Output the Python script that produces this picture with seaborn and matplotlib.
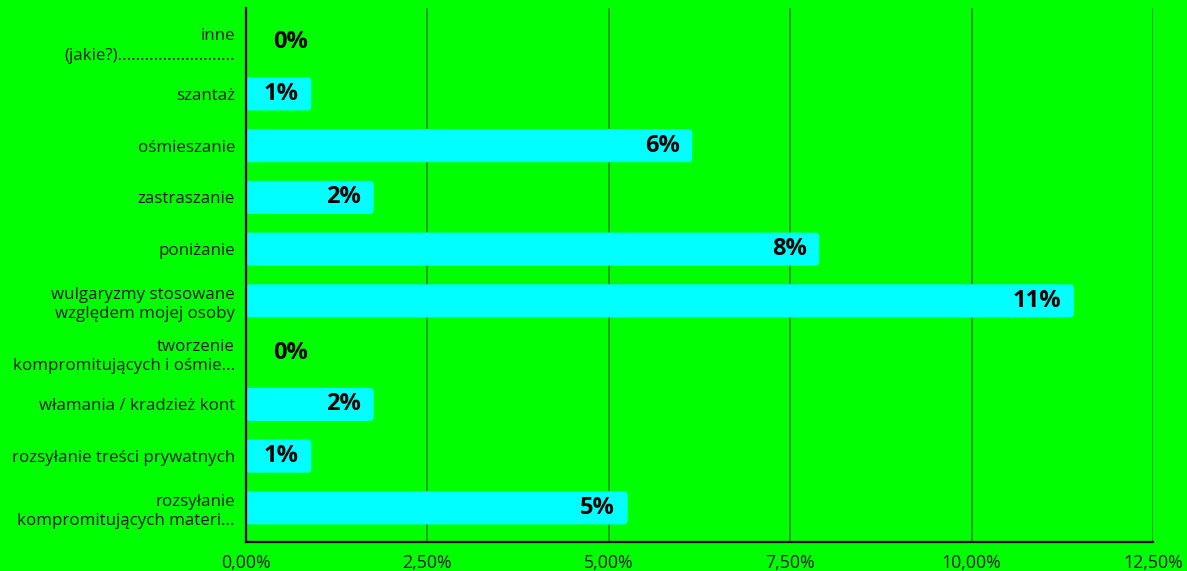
import matplotlib
matplotlib.use("Agg")
import matplotlib.pyplot as plt
import seaborn as sns
import pandas as pd
from matplotlib.patches import FancyBboxPatch
from matplotlib.ticker import FixedLocator

categories = [
    "inne\n(jakie?)..........................",
    "szantaż",
    "ośmieszanie",
    "zastraszanie",
    "poniżanie",
    "wulgaryzmy stosowane\nwzględem mojej osoby",
    "tworzenie\nkompromitujących i ośmie...",
    "włamania / kradzież kont",
    "rozsyłanie treści prywatnych",
    "rozsyłanie\nkompromitujących materi...",
]
values = [0.0, 0.9, 6.15, 1.76, 7.9, 11.41, 0.0, 1.76, 0.9, 5.26]
labels = ["0%", "1%", "6%", "2%", "8%", "11%", "0%", "2%", "1%", "5%"]
xticks = [0, 2.5, 5, 7.5, 10, 12.5]
xticklabels = ["0,00%", "2,50%", "5,00%", "7,50%", "10,00%", "12,50%"]

BG = "#00FF00"
BAR = "#00FFFF"
GRID = "#1E9A1E"

sns.set_theme(style="white")
plt.rcParams["font.family"] = ["Open Sans", "DejaVu Sans"]

df = pd.DataFrame({"cat": categories, "val": values})

fig = plt.figure(figsize=(11.87, 5.71), dpi=100, facecolor=BG)
ax = fig.add_axes([246/1187, 29/571, (1153-246)/1187, (542-8)/571])
ax.set_facecolor(BG)

sns.barplot(data=df, x="val", y="cat", orient="h", color=BAR, width=0.64,
            ax=ax, saturation=1)

# rounded bar ends
xpx = 12.5 / 907
ypx = 10.32 / 534
for p in list(ax.patches):
    x0, y0 = p.get_x(), p.get_y()
    w, h = p.get_width(), p.get_height()
    p.remove()
    if w <= 0:
        continue
    fb = FancyBboxPatch((x0, y0), w, h,
                        boxstyle="round,pad=0,rounding_size=%f" % (4 * xpx),
                        mutation_aspect=ypx / xpx,
                        facecolor=BAR, edgecolor="none", zorder=2)
    ax.add_patch(fb)

ax.set_xlim(0, 12.5)
ax.set_ylim(9.66, -0.66)
ax.xaxis.set_major_locator(FixedLocator(xticks))
ax.set_xticklabels(xticklabels, fontsize=12.8, color="#1a1a1a")
ax.tick_params(axis="y", labelsize=12.2, labelcolor="#1a1a1a", length=0, pad=8)
ax.tick_params(axis="x", length=0, pad=9)
for t in ax.get_yticklabels():
    t.set_linespacing(1.28)
ax.set_xlabel("")
ax.set_ylabel("")

for xt in xticks[1:]:
    ax.axvline(xt, color=GRID, lw=1.3, zorder=1)

for s in ["top", "right"]:
    ax.spines[s].set_visible(False)
for s in ["left", "bottom"]:
    ax.spines[s].set_visible(True)
    ax.spines[s].set_color("black")
    ax.spines[s].set_linewidth(1.6)
    ax.spines[s].set_zorder(3)

for i, (v, lab) in enumerate(zip(values, labels)):
    xpos = v if v > 0 else 1.02
    ax.annotate(lab, xy=(xpos, i), xytext=(-9, 0),
                textcoords="offset points", ha="right", va="center",
                fontsize=17, fontweight="bold", color="black", zorder=4)

fig.savefig("out.png", dpi=100, facecolor=BG)
